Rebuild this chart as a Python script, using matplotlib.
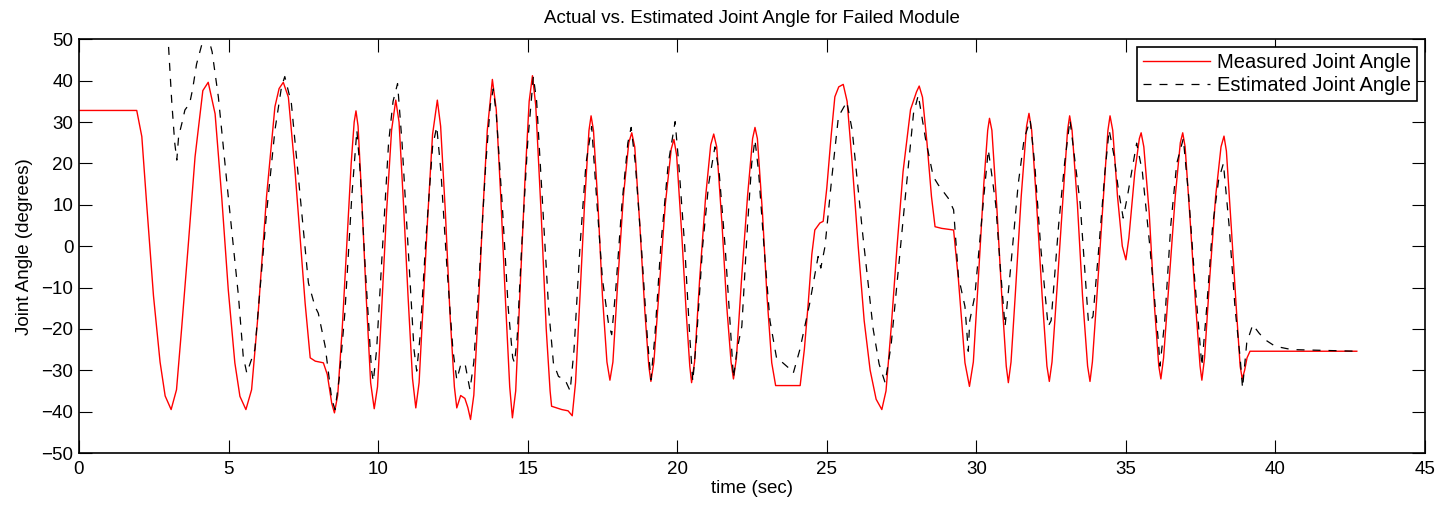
import matplotlib
matplotlib.use("Agg")
import matplotlib.pyplot as plt

plt.rcParams['font.family'] = ['Liberation Sans', 'DejaVu Sans']
plt.rcParams['axes.unicode_minus'] = True

title = "Actual vs. Estimated Joint Angle for Failed Module"
xlabel = "time (sec)"
ylabel = "Joint Angle (degrees)"
series_names = ["Measured Joint Angle", "Estimated Joint Angle"]
x_ticks = [0, 5, 10, 15, 20, 25, 30, 35, 40, 45]
y_ticks = [-50, -40, -30, -20, -10, 0, 10, 20, 30, 40, 50]

measured_t = [
    0, 1.93, 2.1, 2.26, 2.49, 2.71, 2.88, 3.08, 3.26, 3.43, 3.65, 3.88, 4.14, 4.32,
    4.55, 4.77, 4.99, 5.21, 5.38, 5.58, 5.77, 5.99, 6.27, 6.55, 6.69, 6.83, 7.0,
    7.22, 7.56, 7.73, 7.9, 8.17, 8.3, 8.45, 8.54, 8.65, 8.8, 8.95, 9.1, 9.2, 9.26,
    9.33, 9.45, 9.6, 9.75, 9.87, 9.98, 10.12, 10.28, 10.45, 10.59, 10.7, 10.85,
    11.0, 11.15, 11.26, 11.37, 11.5, 11.65, 11.82, 11.98, 12.09, 12.25, 12.4,
    12.55, 12.63, 12.76, 12.9, 13.0, 13.09, 13.2, 13.35, 13.5, 13.65, 13.82,
    13.95, 14.1, 14.25, 14.4, 14.49, 14.6, 14.75, 14.91, 15.05, 15.16, 15.27,
    15.45, 15.62, 15.75, 15.8, 16.14, 16.35, 16.49, 16.6, 16.75, 16.9, 17.05,
    17.12, 17.2, 17.35, 17.5, 17.65, 17.75, 17.85, 18.0, 18.2, 18.38, 18.48,
    18.58, 18.75, 18.92, 19.05, 19.12, 19.22, 19.4, 19.6, 19.8, 19.89, 19.98,
    20.15, 20.3, 20.42, 20.48, 20.58, 20.75, 20.95, 21.12, 21.22, 21.32, 21.5,
    21.65, 21.8, 21.88, 21.98, 22.15, 22.35, 22.52, 22.6, 22.68, 22.85, 23.0,
    23.16, 23.29, 24.11, 24.25, 24.38, 24.5, 24.6, 24.77, 24.88, 25.0, 25.15,
    25.27, 25.4, 25.55, 25.68, 25.85, 26.05, 26.25, 26.45, 26.65, 26.84, 26.98,
    27.15, 27.35, 27.55, 27.8, 28.0, 28.09, 28.2, 28.35, 28.5, 28.62, 28.84,
    29.24, 29.4, 29.62, 29.77, 29.9, 30.05, 30.25, 30.38, 30.44, 30.52, 30.68,
    30.85, 31.0, 31.07, 31.16, 31.3, 31.5, 31.68, 31.76, 31.85, 32.0, 32.2,
    32.36, 32.44, 32.53, 32.7, 32.9, 33.05, 33.12, 33.2, 33.38, 33.55, 33.72,
    33.8, 33.88, 34.05, 34.25, 34.4, 34.47, 34.56, 34.72, 34.88, 35.0, 35.1,
    35.3, 35.45, 35.51, 35.6, 35.78, 35.95, 36.1, 36.17, 36.26, 36.45, 36.65,
    36.82, 36.9, 36.98, 37.15, 37.33, 37.48, 37.54, 37.63, 37.8, 38.0, 38.18,
    38.28, 38.36, 38.52, 38.7, 38.82, 38.89, 38.97, 39.05, 39.15, 42.72]
measured_v = [
    32.8, 32.8, 26.5, 10.4, -12, -28, -36.2, -39.5, -34.7, -20, 0, 21.6, 37.6, 39.6,
    32, 12, -10.5, -28.2, -36.3, -39.5, -34.7, -16.2, 12, 33.7, 38.1, 39.6, 36,
    18.4, -13.8, -27, -27.8, -28.2, -31, -38, -40.3, -36, -20, 0, 20, 30, 32.7,
    29, 12, -12, -33, -39.3, -34, -15, 8, 28, 35.3, 30, 10,
    -12, -32, -39.1, -33, -15, 6, 27, 35.3, 29, 8, -16,
    -34, -39.1, -36.1, -36.8, -39, -41.9, -36, -15, 8, 28, 40.3,
    33, 12, -12, -34, -41.5, -35, -10, 16, 35, 41.2, 34,
    8, -20, -35, -38.7, -39.5, -39.8, -41, -33, -12, 10, 28,
    31.5, 28, 10, -12, -28, -32.4, -28, -10, 12, 25, 27.4,
    24, 5, -16, -29, -32.7, -28, -10, 10, 23.5, 25.8, 22,
    3, -16, -29, -33, -28, -8, 12, 24.5, 27.1, 24, 5,
    -14, -28, -32.1, -27, -8, 12, 26, 28.7, 26, 8, -12,
    -28.2, -33.7, -33.7, -25, -13.8, -2, 3.9, 5.6, 6, 14, 27,
    36.1, 38.5, 39.1, 35, 20, 0, -18, -30, -37, -39.5, -35,
    -20, 0, 18, 33, 37.3, 38.7, 36, 25, 12, 4.7, 4.3,
    3.9, -8, -28.2, -33.9, -28, -10, 15, 28, 30.9, 28, 10,
    -12, -29, -33, -28, -12, 12, 29, 32.1, 28, 12, -12,
    -29, -32.7, -28, -10, 12, 28, 31.5, 28, 10, -12, -29,
    -32.7, -28, -10, 12, 28, 31.5, 28, 12, 0, -3.3, 2,
    18, 26, 27.4, 24, 8, -14, -29, -32.1, -27, -8, 12,
    25, 27.4, 24, 6, -14, -29, -32.4, -27, -8, 12, 24,
    26.6, 23, 5, -16, -29, -32.1, -30, -27, -25.4, -25.4]

estimated_t = [
    2.9, 3.1, 3.2, 3.27, 3.33, 3.45, 3.54, 3.7, 3.8, 3.93, 4.16, 4.3, 4.45, 4.66,
    4.99, 5.33, 5.49, 5.61, 5.88, 6.27, 6.55, 6.77, 6.88, 7.1, 7.5, 7.67, 7.89,
    8.0, 8.23, 8.45, 8.56, 8.7, 8.89, 9.12, 9.29, 9.4, 9.56, 9.78, 9.84, 9.95,
    10.15, 10.35, 10.5, 10.65, 10.8, 11.0, 11.2, 11.29, 11.4, 11.6, 11.82, 11.96,
    12.1, 12.3, 12.5, 12.63, 12.75, 12.9, 13.07, 13.2, 13.4, 13.6, 13.75, 13.85,
    13.95, 14.15, 14.35, 14.5, 14.56, 14.65, 14.8, 15.0, 15.19, 15.3, 15.5, 15.7,
    15.86, 16.03, 16.25, 16.42, 16.55, 16.75, 16.95, 17.14, 17.3, 17.5, 17.7,
    17.81, 17.95, 18.15, 18.35, 18.46, 18.6, 18.8, 19.0, 19.12, 19.25, 19.45,
    19.7, 19.93, 20.05, 20.25, 20.42, 20.52, 20.65, 20.85, 21.05, 21.26, 21.4,
    21.6, 21.78, 21.88, 22.0, 22.16, 22.35, 22.49, 22.6, 22.72, 22.9, 23.1,
    23.33, 23.45, 23.72, 23.88, 24.1, 24.43, 24.71, 24.8, 24.94, 25.16, 25.39,
    25.67, 25.85, 26.2, 26.55, 26.75, 26.95, 27.15, 27.6, 27.9, 28.06, 28.3,
    28.56, 28.73, 29.06, 29.24, 29.4, 29.62, 29.73, 29.78, 29.95, 30.1, 30.25,
    30.4, 30.51, 30.65, 30.8, 30.96, 31.15, 31.4, 31.6, 31.8, 31.95, 32.15,
    32.4, 32.5, 32.75, 32.95, 33.13, 33.47, 33.75, 33.9, 34.1, 34.3, 34.44,
    34.6, 34.75, 34.91, 35.05, 35.36, 35.55, 35.8, 36.09, 36.14, 36.3, 36.5,
    36.7, 36.92, 37.1, 37.3, 37.54, 37.7, 37.9, 38.1, 38.26, 38.45, 38.65,
    38.82, 38.9, 39.04, 39.24, 39.45, 39.65, 39.99, 40.54, 42.72]
estimated_v = [
    60, 35, 25, 20.8, 26.5, 30, 32.9, 34.5, 38, 44, 50.2, 51, 47, 36,
    12, -12, -26.6, -30.7, -25, 8, 28, 38.5, 41, 34.5, 4, -8.9, -14.6,
    -16.2, -24.2, -37, -39.5, -32, -16, 12, 28, 18, -4, -30, -32.7, -25,
    0, 25, 35, 39.3, 25, 0, -25, -30.2, -22, 2, 24, 28.9,
    18, -5, -25, -32.3, -29, -28.2, -34.7, -28, -5, 20, 34, 38,
    32, 10, -15, -27, -28.2, -22, 0, 25, 41, 35, 10, -15,
    -28.2, -31.5, -32.3, -35, -25, 0, 20, 28.9, 12, -8, -18.6,
    -21.4, -10, 10, 25, 28.7, 20, 0, -22, -32.3, -22, 0,
    20, 30.1, 20, 0, -22, -32.7, -22, 0, 15, 24, 18,
    0, -20, -31.9, -25, -19.4, 5, 20, 25.7, 18, 0, -18,
    -27.4, -27.7, -29.4, -30.7, -25, -13.8, -2.5, -5.3, -0.1, 16, 31.3,
    34.9, 28, 3, -20, -28.5, -33, -24, 10, 32.1, 36.5, 26,
    16.8, 14.8, 11.6, 8.8, -7.3, -14.6, -25.4, -18, -12, 0, 12,
    23.3, 17.6, 10, -5, -19.4, -5, 15, 26, 30.5, 20, 0,
    -19.4, -18, 5, 20, 30.5, 10.4, -18.6, -17, 0, 18, 28.1,
    22, 13.6, 6.8, 12, 24.9, 18, 0, -23.4, -29, -18, 5,
    20, 26, 12, -8, -29, -15, 5, 16, 20, 5, -15,
    -27, -34.3, -23.4, -19, -21, -22.6, -24.2, -25, -25.4]

fig = plt.figure(figsize=(14.54, 5.07), dpi=100)
ax = fig.add_axes([79/1454, 1 - 453/507, (1425-79)/1454, (453-39.3)/507])

ax.plot(measured_t, measured_v, color='red', lw=1.0, label=series_names[0])
ax.plot(estimated_t, estimated_v, color='black', lw=0.9, dashes=(6.4, 6.4),
        label=series_names[1])

ax.set_xlim(0, 45)
ax.set_ylim(-50, 50)
ax.set_xticks(x_ticks)
ax.set_yticks(y_ticks)
ax.tick_params(direction='in', top=True, right=True, length=9.5, width=0.8,
               labelsize=13.5)
ax.tick_params(axis='x', pad=6)
ax.tick_params(axis='y', pad=4)
for s in ax.spines.values():
    s.set_linewidth(1.2)
ax.set_title(title, fontsize=13.5, pad=12)
ax.set_xlabel(xlabel, fontsize=13.5, labelpad=1)
ax.set_ylabel(ylabel, fontsize=13.5, labelpad=6)

leg = ax.legend(loc='upper right', fontsize=14.5, frameon=True, fancybox=False,
                edgecolor='black', framealpha=1, handlelength=3.3,
                borderaxespad=0.4, borderpad=0.3, labelspacing=0.2,
                handletextpad=0.35)
leg.get_frame().set_linewidth(1.2)

fig.savefig("out.png", dpi=100)
